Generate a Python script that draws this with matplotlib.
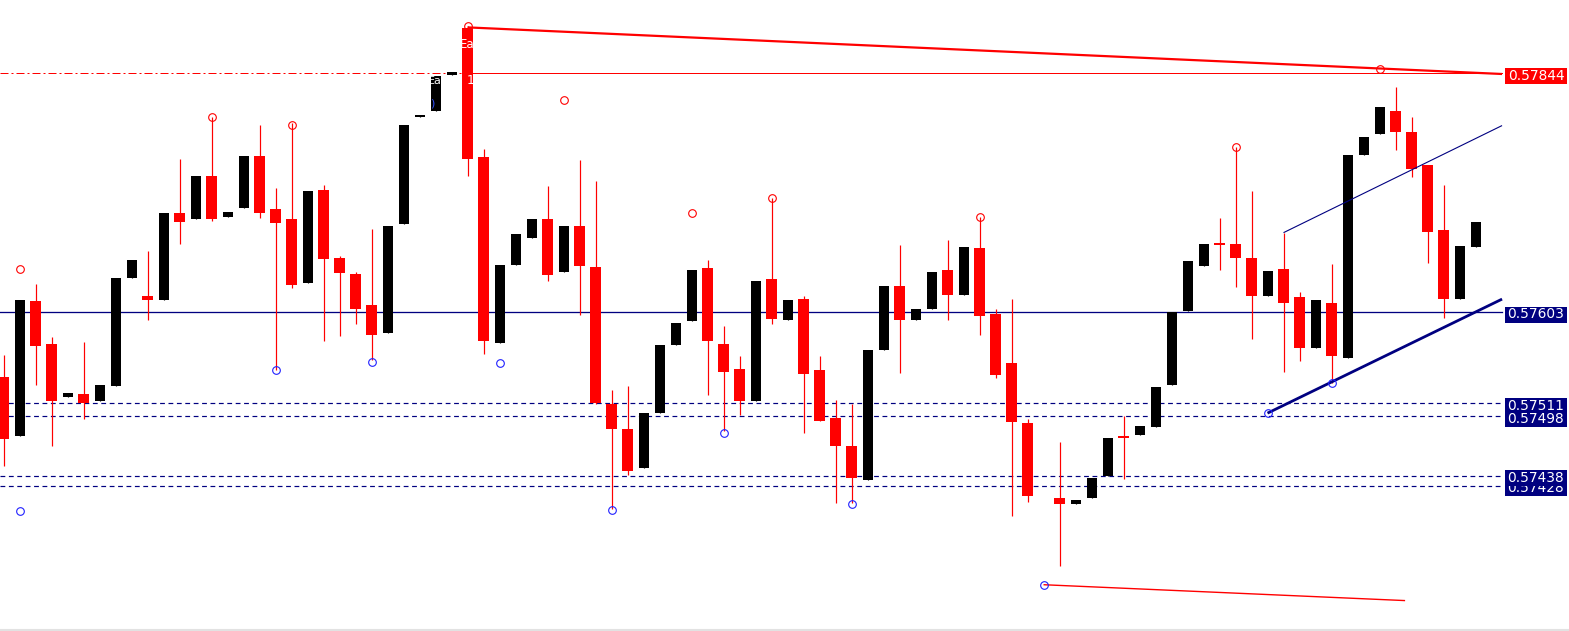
import numpy as np
import matplotlib
matplotlib.use('Agg')
import matplotlib.pyplot as plt
from matplotlib.patches import Rectangle
from matplotlib.lines import Line2D

nan = np.nan
opens = [0.57537, 0.57478, 0.57614, 0.57571, 0.57517, 0.57520, 0.57513, 0.57528, 0.57637, 0.57619,
         0.57615, 0.57703, 0.57697, 0.57740, 0.57699, 0.57708, 0.57760, 0.57707, 0.57697, 0.57632,
         0.57726, 0.57657, 0.57641, 0.57610, 0.57582, 0.57692, 0.57800, 0.57806, 0.57842, 0.57889,
         0.57759, 0.57572, 0.57650, 0.57678, 0.57697, 0.57643, 0.57690, 0.57648, 0.57510, 0.57485,
         0.57446, 0.57501, 0.57570, 0.57594, 0.57647, 0.57571, 0.57546, 0.57513, 0.57636, 0.57595,
         0.57616, 0.57545, 0.57496, 0.57468, 0.57434, 0.57565, 0.57629, 0.57595, 0.57606, 0.57645,
         0.57620, 0.57668, 0.57601, 0.57552, 0.57491, nan, 0.57415, 0.57409, 0.57415, 0.57438,
         0.57478, 0.57479, 0.57487, 0.57529, 0.57604, 0.57649, 0.57672, 0.57672, 0.57657, 0.57619,
         0.57646, 0.57618, 0.57567, 0.57612, 0.57557, 0.57761, 0.57782, 0.57806, 0.57785, 0.57751,
         0.57686, 0.57616, 0.57669]
highs = [0.57560, 0.57615, 0.57631, 0.57578, 0.57521, 0.57573, 0.57529, 0.57637, 0.57655, 0.57665,
         0.57703, 0.57757, 0.57740, 0.57800, 0.57704, 0.57760, 0.57792, 0.57728, 0.57794, 0.57725,
         0.57731, 0.57659, 0.57643, 0.57687, 0.57690, 0.57792, 0.57801, 0.57841, 0.57845, 0.57891,
         0.57767, 0.57650, 0.57682, 0.57697, 0.57730, 0.57690, 0.57756, 0.57735, 0.57524, 0.57528,
         0.57501, 0.57570, 0.57592, 0.57645, 0.57655, 0.57589, 0.57559, 0.57634, 0.57718, 0.57615,
         0.57619, 0.57559, 0.57514, 0.57510, 0.57565, 0.57629, 0.57671, 0.57606, 0.57643, 0.57676,
         0.57669, 0.57699, 0.57606, 0.57616, 0.57495, nan, 0.57472, 0.57413, 0.57436, 0.57476,
         0.57498, 0.57488, 0.57527, 0.57603, 0.57654, 0.57672, 0.57698, 0.57769, 0.57725, 0.57644,
         0.57683, 0.57623, 0.57615, 0.57651, 0.57761, 0.57779, 0.57810, 0.57830, 0.57800, 0.57751,
         0.57731, 0.57670, 0.57694]
lows = [0.57448, 0.57478, 0.57529, 0.57468, 0.57517, 0.57495, 0.57513, 0.57528, 0.57637, 0.57595,
        0.57615, 0.57672, 0.57697, 0.57695, 0.57699, 0.57708, 0.57698, 0.57545, 0.57627, 0.57632,
        0.57574, 0.57579, 0.57591, 0.57555, 0.57582, 0.57692, 0.57800, 0.57806, 0.57842, 0.57740,
        0.57561, 0.57572, 0.57650, 0.57678, 0.57634, 0.57643, 0.57600, 0.57510, 0.57404, 0.57439,
        0.57446, 0.57501, 0.57570, 0.57594, 0.57519, 0.57483, 0.57499, 0.57513, 0.57591, 0.57595,
        0.57481, 0.57493, 0.57410, 0.57410, 0.57434, 0.57565, 0.57541, 0.57595, 0.57606, 0.57595,
        0.57620, 0.57580, 0.57536, 0.57397, 0.57411, nan, 0.57347, 0.57409, 0.57415, 0.57438,
        0.57435, 0.57479, 0.57487, 0.57529, 0.57604, 0.57649, 0.57645, 0.57628, 0.57576, 0.57619,
        0.57543, 0.57554, 0.57567, 0.57531, 0.57557, 0.57761, 0.57782, 0.57766, 0.57739, 0.57652,
        0.57597, 0.57616, 0.57669]
closes = [0.57475, 0.57615, 0.57569, 0.57513, 0.57521, 0.57511, 0.57529, 0.57637, 0.57655, 0.57615,
          0.57703, 0.57694, 0.57740, 0.57697, 0.57704, 0.57760, 0.57703, 0.57693, 0.57630, 0.57725,
          0.57656, 0.57642, 0.57606, 0.57580, 0.57690, 0.57792, 0.57801, 0.57841, 0.57845, 0.57757,
          0.57574, 0.57650, 0.57682, 0.57697, 0.57640, 0.57690, 0.57649, 0.57511, 0.57485, 0.57443,
          0.57501, 0.57570, 0.57592, 0.57645, 0.57574, 0.57543, 0.57513, 0.57634, 0.57596, 0.57615,
          0.57540, 0.57493, 0.57468, 0.57436, 0.57565, 0.57629, 0.57595, 0.57606, 0.57643, 0.57620,
          0.57669, 0.57599, 0.57539, 0.57492, 0.57417, nan, 0.57409, 0.57413, 0.57436, 0.57476,
          0.57476, 0.57488, 0.57527, 0.57603, 0.57654, 0.57672, 0.57671, 0.57657, 0.57619, 0.57644,
          0.57612, 0.57567, 0.57615, 0.57559, 0.57761, 0.57779, 0.57810, 0.57785, 0.57747, 0.57684,
          0.57616, 0.57670, 0.57694]

red_mark_idx = [1, 13, 18, 29, 35, 43, 48, 61, 77, 86]
red_mark_val = [0.57646, 0.57800, 0.57792, 0.57891, 0.57817, 0.57703, 0.57718, 0.57699, 0.57769, 0.57848]
blue_mark_idx = [1, 17, 23, 31, 38, 45, 53, 65, 79, 83]
blue_mark_val = [0.57402, 0.57545, 0.57553, 0.57552, 0.57403, 0.57481, 0.57409, 0.57328, 0.57501, 0.57531]

level_red = 0.57844
level_navy = 0.57603
levels_dashed = [0.57511, 0.57498, 0.57438, 0.57428]

# trendlines: (start index, start price, end index, end price)
red_trend = (29, 0.57890, 93.66, 0.57843)
red_low_trend = (65, 0.57328, 87.6, 0.57312)
navy_trend = (79, 0.57501, 93.66, 0.57616)
navy_channel = (80, 0.57683, 93.66, 0.57791)

RED = '#ff0000'
NAVY = '#000080'

W, H = 1569, 631
fig = plt.figure(figsize=(W / 100, H / 100), dpi=100)
ax = fig.add_axes([0, 0, 1, 1])
ppx = 0.00241 / 239          # price per pixel
upx = 1 / 16                 # candle units per pixel
ytop = 0.57844 + 73 * ppx
ybot = ytop - H * ppx
x0 = -3.5 * upx
x1 = (W - 3.5) * upx
ax.set_xlim(x0, x1)
ax.set_ylim(ybot, ytop)
ax.axis('off')

x_end = (1502 - 3.5) * upx
lw1 = 0.72

# horizontal levels
ax.plot([x0, 29], [level_red, level_red], color=RED, lw=lw1, dashes=(8, 3, 2, 3), zorder=1)
ax.plot([29, x_end], [level_red, level_red], color=RED, lw=lw1, zorder=1)
ax.plot([x0, x_end], [level_navy, level_navy], color=NAVY, lw=lw1 * 1.3, zorder=1)
for lv in levels_dashed:
    ax.plot([x0, x_end], [lv, lv], color=NAVY, lw=lw1 * 1.2, dashes=(4, 3), zorder=1)

# candles
for i, (o, h, l, c) in enumerate(zip(opens, highs, lows, closes)):
    if np.isnan(o):
        continue
    bear = c < o
    col = RED if bear else 'black'
    ax.vlines(i, l, h, color=col, lw=lw1 * 1.2, zorder=2)
    bot = min(o, c)
    ht = max(abs(o - c), 2 * ppx)
    w = 11 * upx if bear else 10 * upx
    ax.add_patch(Rectangle((i - w / 2, bot), w, ht, facecolor=col, edgecolor='none', zorder=3))

# trendlines
for (xa, ya, xb, yb), col, lw in [(red_trend, RED, 1.6), (red_low_trend, RED, 1.0),
                                   (navy_trend, NAVY, 2.0), (navy_channel, NAVY, 0.8)]:
    ax.plot([xa, xb], [ya, yb], color=col, lw=lw, zorder=4, solid_capstyle='butt')

# markers
ax.plot(red_mark_idx, red_mark_val, ls='none', marker='o', ms=5.5, mfc='none', mec=RED, mew=0.8, zorder=5)
ax.plot(blue_mark_idx, blue_mark_val, ls='none', marker='o', ms=5.5, mfc='none', mec='#2020ff', mew=0.8, zorder=5)

# small overlay texts
ax.text(29.0, level_red + 29 * ppx, 'Ea', color='white', fontsize=8.5, ha='center', va='center', zorder=6)
ax.text(26.95, level_red - 8 * ppx, 'Ea', color='white', fontsize=8, ha='center', va='center', zorder=6)
ax.text(29.2, level_red - 7 * ppx, '1', color='white', fontsize=9, ha='center', va='center', zorder=6)
ax.text(26.8, level_red - 30 * ppx, ')', color='#3050ff', fontsize=8, ha='center', va='center', zorder=6)

# price labels on right (later ones drawn on top, as in the reference)
bl = (1505 - 3.5) * upx
bw = 62 * upx
labels = [(level_red, RED), (level_navy, NAVY), (levels_dashed[0], NAVY), (levels_dashed[1], NAVY),
          (levels_dashed[3], NAVY), (levels_dashed[2], NAVY)]
for z, (lv, col) in enumerate(labels):
    ax.add_patch(Rectangle((bl, lv - 10.5 * ppx), bw, 16 * ppx, facecolor=col, edgecolor='none', zorder=10 + z))
    ax.text(bl + bw / 2, lv - 2.5 * ppx, f'{lv:.5f}', color='white', fontsize=9.9, ha='center', va='center',
            zorder=10 + z, family='DejaVu Sans')

fig.add_artist(Line2D([0, 1], [1.5 / H, 1.5 / H], transform=fig.transFigure, color='#e2e2e2', lw=1.5))

fig.savefig('out.png', dpi=100, facecolor='white')
